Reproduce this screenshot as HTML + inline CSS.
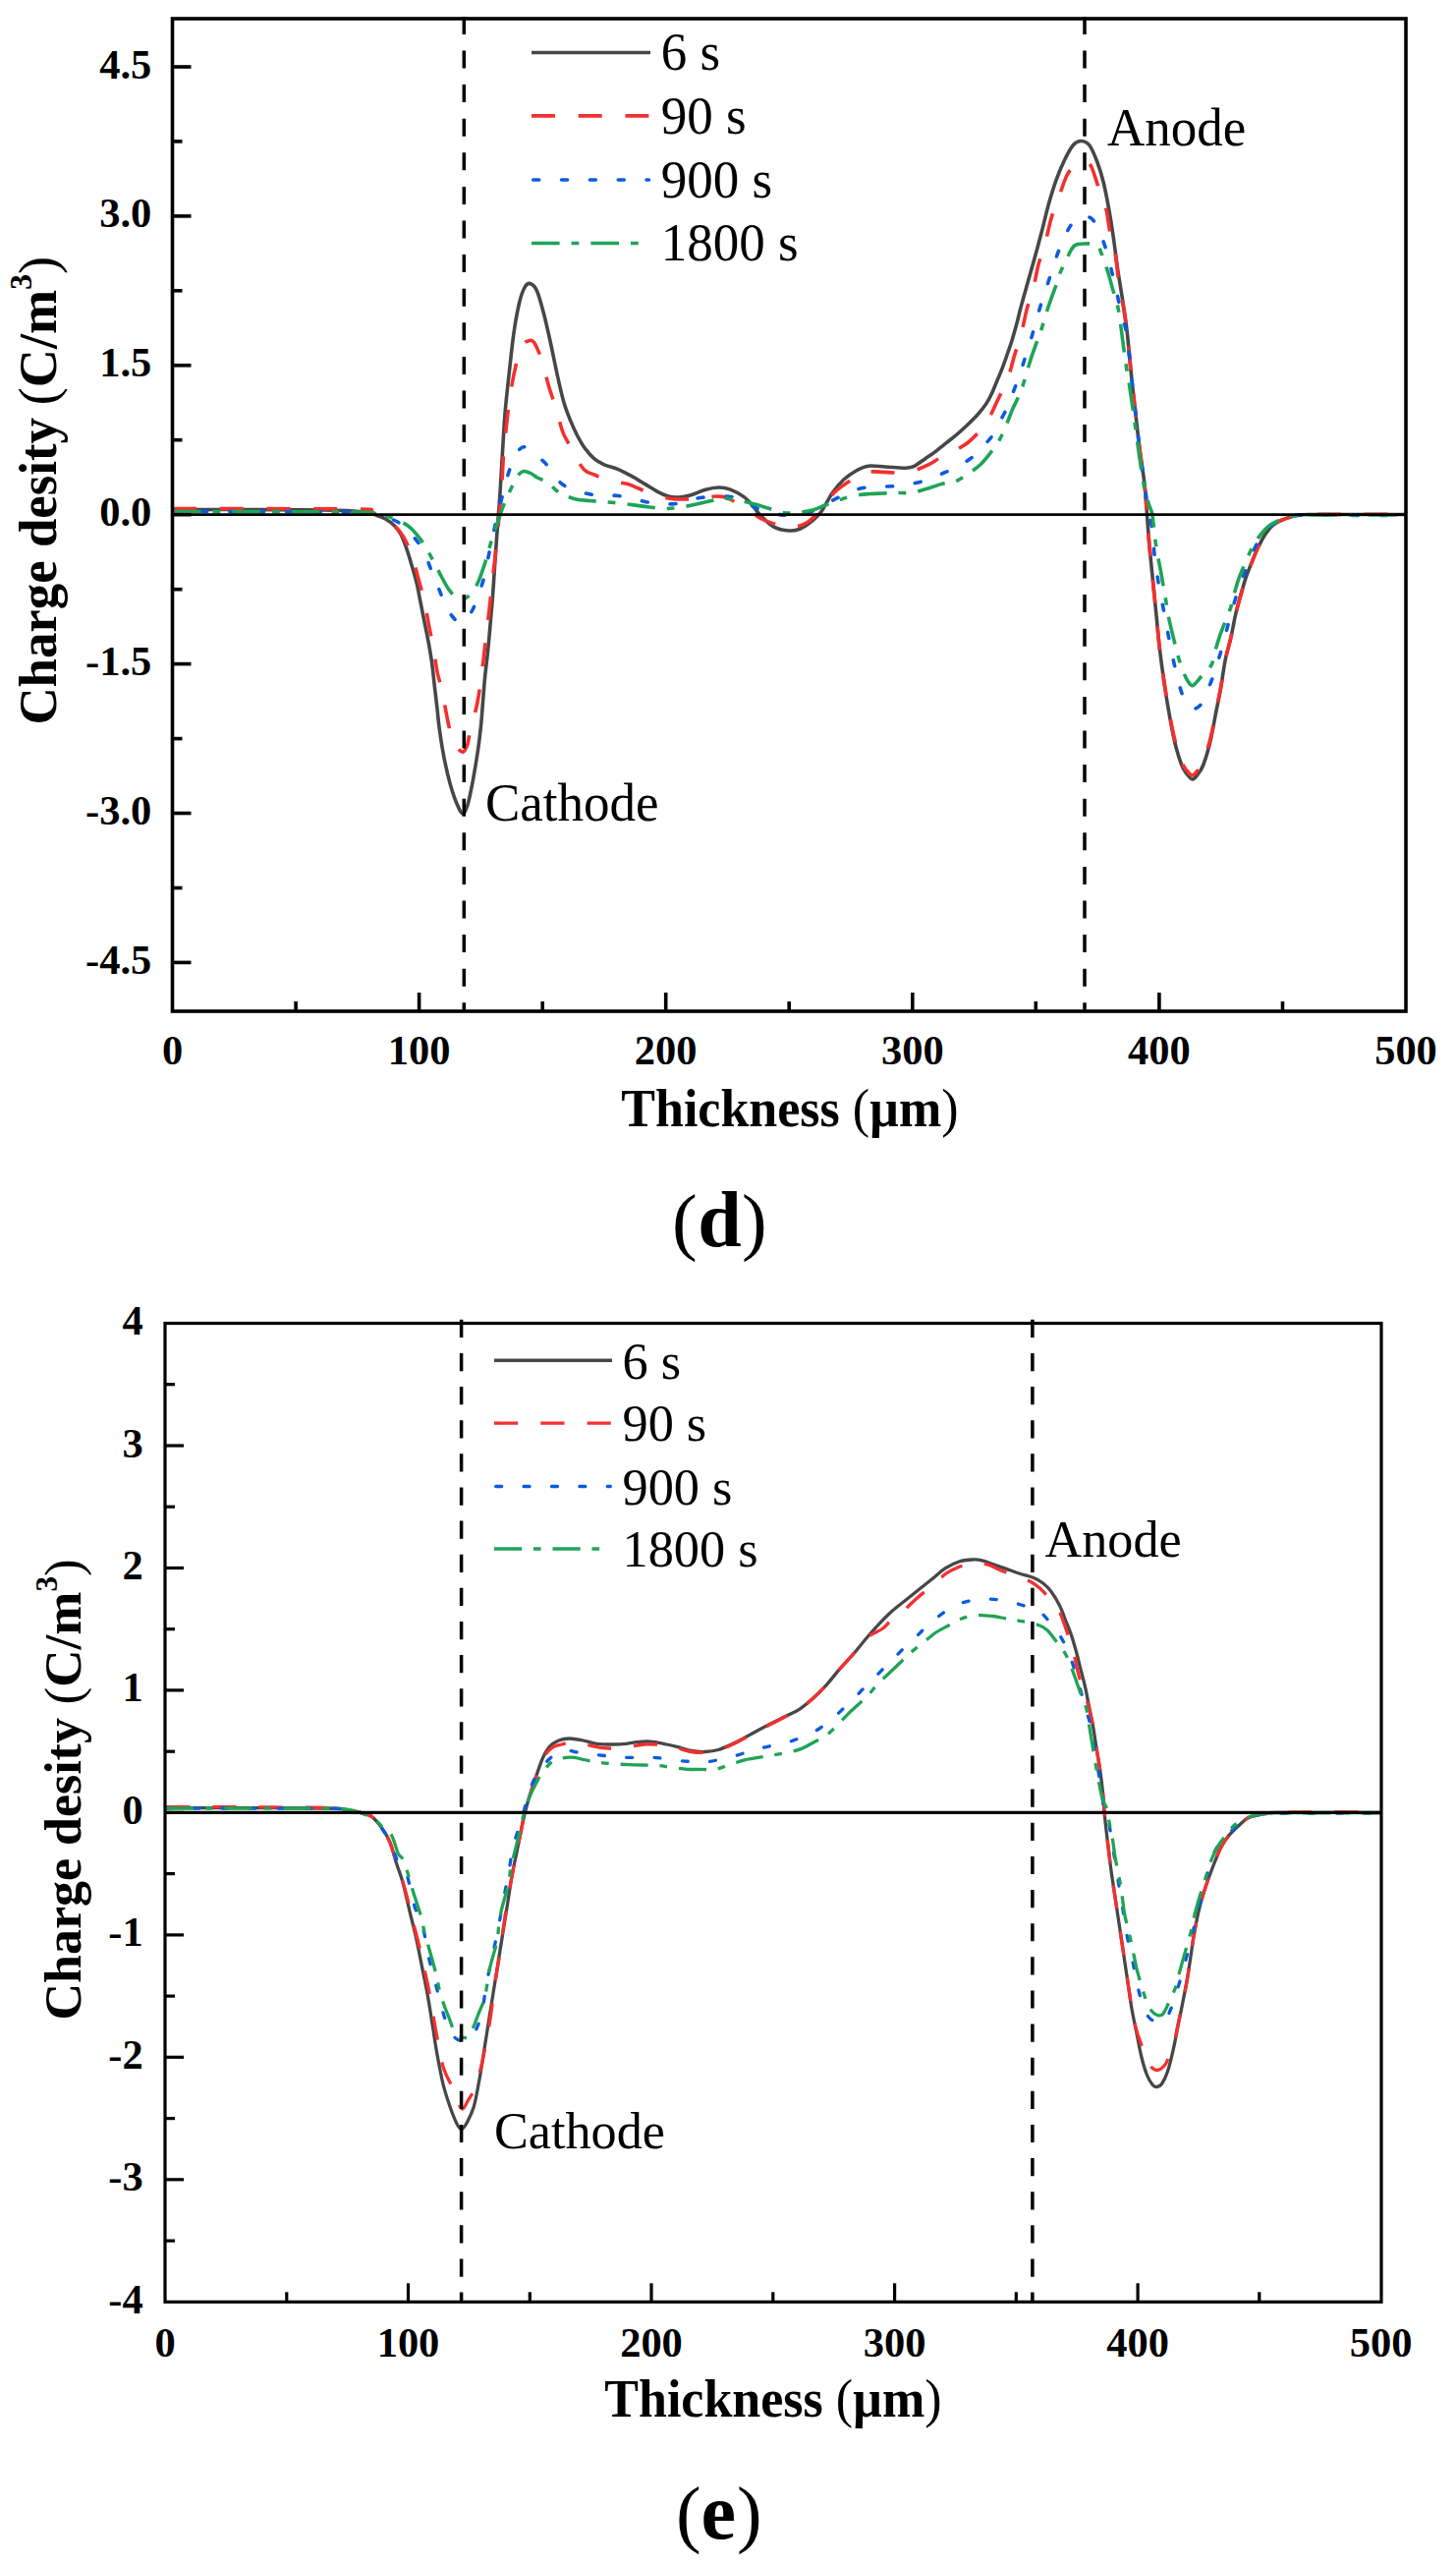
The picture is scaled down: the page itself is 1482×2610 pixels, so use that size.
<!DOCTYPE html>
<html><head><meta charset="utf-8"><title>Charge density profiles</title>
<style>
html,body{margin:0;padding:0;background:#fff;}
body{width:1482px;height:2610px;overflow:hidden;}
svg{display:block;font-family:"Liberation Serif",serif;}
</style></head>
<body>
<svg width="1482" height="2610" viewBox="0 0 1482 2610">
<rect width="1482" height="2610" fill="#fff"/>
<path d="M176.0,518.5 C188.3,518.5 224.3,518.4 250.0,518.5 C275.7,518.6 311.7,518.8 330.0,519.0 C348.3,519.2 352.3,519.5 360.0,520.0 C367.7,520.5 371.8,521.2 376.0,522.0 C380.2,522.8 382.4,524.0 385.0,525.0 C387.6,526.0 389.2,526.2 391.9,527.8 C394.6,529.4 398.3,531.8 401.0,534.5 C403.7,537.2 406.0,540.0 408.1,543.9 C410.2,547.8 411.8,552.5 413.7,557.9 C415.6,563.3 417.6,570.1 419.3,576.1 C421.1,582.1 422.8,587.9 424.2,593.7 C425.6,599.6 426.4,604.8 427.7,611.2 C429.0,617.6 430.5,625.3 431.9,632.3 C433.3,639.3 434.8,646.3 436.1,653.3 C437.4,660.3 438.5,666.6 439.6,674.4 C440.7,682.2 441.6,692.2 442.5,700.0 C443.4,707.8 444.2,713.9 445.0,721.0 C445.8,728.1 446.1,733.9 447.4,742.7 C448.6,751.5 450.6,764.2 452.5,773.6 C454.4,783.0 456.5,791.8 458.7,799.4 C460.9,807.0 463.4,814.2 465.5,819.0 C467.6,823.8 469.4,828.0 471.1,828.0 C472.9,828.0 474.3,824.6 476.0,819.0 C477.7,813.4 479.6,803.5 481.4,794.2 C483.1,784.9 485.1,772.7 486.5,763.3 C487.9,753.9 488.7,746.2 489.6,737.6 C490.5,729.0 491.0,720.4 491.7,711.8 C492.4,703.2 493.0,694.6 493.9,686.0 C494.8,677.4 495.9,669.6 496.8,660.3 C497.7,651.0 498.7,639.5 499.5,630.0 C500.3,620.5 500.9,614.9 501.7,603.6 C502.5,592.3 503.7,573.9 504.5,562.4 C505.3,550.9 505.8,544.0 506.5,534.9 C507.2,525.8 507.9,517.5 508.6,507.5 C509.3,497.5 509.7,489.4 510.6,475.0 C511.5,460.6 512.7,437.0 514.0,421.1 C515.3,405.2 516.7,393.6 518.2,379.9 C519.7,366.2 521.3,350.6 523.0,338.7 C524.7,326.8 526.7,316.2 528.5,308.5 C530.3,300.8 532.2,295.8 534.0,292.5 C535.8,289.2 537.5,288.0 539.5,288.5 C541.5,289.0 544.0,290.6 546.3,295.5 C548.6,300.4 550.9,309.4 553.2,318.0 C555.5,326.6 557.7,336.7 560.0,347.0 C562.3,357.3 564.6,369.6 566.9,379.9 C569.2,390.2 571.5,401.0 573.8,409.0 C576.1,417.0 578.3,422.2 580.6,427.9 C582.9,433.6 585.0,438.2 587.5,443.0 C590.0,447.8 592.7,452.7 595.7,456.7 C598.7,460.7 602.1,464.5 605.3,467.2 C608.5,469.9 611.1,471.1 615.0,472.8 C618.9,474.5 624.1,475.4 628.7,477.3 C633.3,479.2 637.8,481.7 642.4,484.2 C647.0,486.7 651.6,489.6 656.2,492.4 C660.8,495.1 666.0,498.6 669.9,500.7 C673.8,502.8 676.1,503.9 679.5,504.8 C682.9,505.7 686.4,506.2 690.5,506.0 C694.6,505.8 699.6,504.7 704.2,503.4 C708.8,502.1 713.4,499.4 718.0,498.2 C722.6,497.0 727.6,496.1 731.7,496.0 C735.8,495.9 738.5,496.3 742.7,497.9 C746.9,499.5 752.9,502.5 756.9,505.4 C760.9,508.2 763.6,511.8 766.5,515.0 C769.4,518.2 770.7,521.1 774.2,524.6 C777.7,528.1 782.9,533.6 787.7,536.2 C792.5,538.8 798.6,539.7 803.1,540.0 C807.6,540.3 810.8,539.6 814.6,538.0 C818.5,536.4 822.7,533.3 826.2,530.4 C829.7,527.5 832.3,525.6 835.8,520.8 C839.3,516.0 843.5,507.0 847.3,501.5 C851.1,496.0 854.6,491.8 858.8,488.0 C863.0,484.2 868.1,480.8 872.3,478.5 C876.5,476.2 879.0,474.8 883.8,474.2 C888.6,473.6 895.1,474.7 901.2,475.0 C907.3,475.3 915.6,476.3 920.4,476.2 C925.2,476.1 926.5,476.2 930.0,474.6 C933.5,473.1 938.0,469.3 941.5,466.9 C945.0,464.5 947.6,462.9 951.0,460.4 C954.4,457.8 958.3,454.5 962.0,451.6 C965.7,448.7 969.3,446.0 973.0,442.9 C976.7,439.8 980.3,436.5 984.0,433.0 C987.7,429.5 991.7,425.7 995.0,422.0 C998.3,418.3 1001.3,414.5 1003.7,411.0 C1006.1,407.5 1007.4,405.0 1009.2,401.1 C1011.0,397.2 1012.9,392.3 1014.7,387.9 C1016.5,383.5 1018.4,379.5 1020.2,374.7 C1022.0,369.9 1024.1,364.1 1025.7,359.3 C1027.3,354.6 1028.6,350.9 1030.1,346.2 C1031.6,341.4 1033.0,336.3 1034.5,330.8 C1036.0,325.3 1037.1,319.9 1038.9,313.2 C1040.7,306.4 1043.0,298.7 1045.3,290.3 C1047.6,281.9 1050.4,272.2 1053.0,262.9 C1055.6,253.6 1058.3,243.5 1060.7,234.3 C1063.1,225.1 1064.9,216.3 1067.3,207.9 C1069.7,199.5 1072.2,191.3 1074.9,183.7 C1077.6,176.1 1080.8,168.5 1083.7,162.5 C1086.6,156.5 1089.7,150.7 1092.5,147.5 C1095.3,144.3 1098.0,143.4 1100.8,143.5 C1103.5,143.6 1106.3,144.5 1109.0,148.0 C1111.7,151.5 1114.3,158.2 1116.7,164.5 C1119.1,170.8 1121.3,177.8 1123.3,186.0 C1125.3,194.2 1127.1,204.2 1128.8,213.4 C1130.5,222.6 1131.7,230.8 1133.2,240.9 C1134.7,251.0 1136.1,263.7 1137.6,273.8 C1139.1,283.9 1140.4,290.7 1142.0,301.3 C1143.6,311.9 1145.6,323.7 1147.2,337.5 C1148.8,351.3 1150.2,369.5 1151.8,384.3 C1153.3,399.1 1155.1,413.9 1156.5,426.4 C1157.9,438.9 1158.9,448.3 1160.3,459.2 C1161.7,470.1 1163.7,481.3 1164.9,492.0 C1166.1,502.7 1166.7,513.0 1167.5,523.5 C1168.3,534.0 1168.9,544.0 1169.9,555.1 C1170.9,566.2 1172.2,578.5 1173.4,590.2 C1174.6,601.9 1175.7,613.6 1176.9,625.3 C1178.1,637.0 1179.0,648.7 1180.4,660.4 C1181.8,672.1 1183.5,684.7 1185.1,695.4 C1186.7,706.1 1188.0,714.9 1189.8,724.7 C1191.5,734.6 1193.5,745.6 1195.6,754.5 C1197.7,763.4 1200.5,772.5 1202.6,778.0 C1204.7,783.5 1206.2,785.0 1208.0,787.5 C1209.8,790.0 1211.8,793.0 1213.7,793.0 C1215.6,793.0 1217.6,790.0 1219.5,787.5 C1221.4,785.0 1222.8,783.5 1224.9,778.0 C1227.0,772.5 1229.8,763.4 1231.9,754.5 C1234.0,745.6 1236.0,733.6 1237.7,724.7 C1239.5,715.8 1240.8,710.1 1242.4,701.3 C1244.0,692.5 1245.3,680.8 1247.1,672.0 C1248.8,663.2 1251.2,656.5 1252.9,648.7 C1254.7,640.9 1256.0,632.1 1257.6,625.3 C1259.2,618.5 1260.5,614.0 1262.3,607.7 C1264.0,601.5 1266.1,593.6 1268.1,587.8 C1270.0,581.9 1272.0,577.5 1274.0,572.6 C1276.0,567.7 1277.5,563.5 1279.8,558.6 C1282.1,553.7 1285.3,547.5 1288.0,543.4 C1290.7,539.3 1293.5,536.3 1296.2,534.0 C1298.9,531.7 1301.2,530.8 1304.0,529.5 C1306.8,528.2 1310.0,527.1 1313.0,526.2 C1316.0,525.3 1317.5,524.5 1322.0,524.0 C1326.5,523.5 1321.8,523.6 1340.0,523.5 C1358.2,523.4 1415.8,523.5 1431.0,523.5" fill="none" stroke="#474747" stroke-width="3.6" stroke-linejoin="round" stroke-linecap="butt"/>
<path d="M176.0,517.5 C206.7,517.6 326.8,517.6 360.0,518.0 C393.2,518.4 370.7,518.9 375.0,520.0 C379.3,521.1 382.8,523.1 386.0,524.5 C389.2,525.9 391.3,526.8 394.0,528.5 C396.7,530.2 399.2,532.0 402.0,535.0 C404.8,538.0 408.0,541.6 410.9,546.7 C413.8,551.8 416.7,558.3 419.3,565.6 C421.9,572.9 424.2,582.8 426.3,590.5 C428.4,598.2 430.3,604.4 432.0,612.0 C433.7,619.6 435.0,628.2 436.5,636.0 C438.0,643.8 439.5,650.8 441.0,659.0 C442.5,667.2 443.9,678.2 445.3,685.0 C446.7,691.8 448.1,694.5 449.3,700.0 C450.6,705.5 451.5,711.3 452.8,718.0 C454.1,724.7 455.8,734.2 457.2,740.0 C458.6,745.8 459.5,749.4 461.0,753.0 C462.5,756.6 464.2,759.5 466.0,761.5 C467.8,763.5 469.8,765.8 471.5,765.0 C473.2,764.2 474.9,760.4 476.0,757.0 C477.1,753.6 476.7,751.5 478.3,744.8 C479.9,738.1 483.6,725.9 485.5,717.0 C487.4,708.1 488.4,699.8 489.6,691.2 C490.8,682.6 491.8,673.2 492.7,665.5 C493.6,657.8 494.3,652.2 495.2,645.0 C496.1,637.8 496.9,629.6 497.8,622.0 C498.7,614.4 499.4,607.3 500.3,599.5 C501.2,591.7 502.1,583.0 503.0,575.0 C503.9,567.0 504.8,558.9 505.6,551.4 C506.4,543.9 507.0,536.9 507.6,530.0 C508.2,523.1 508.8,516.7 509.4,510.0 C510.0,503.3 510.4,498.3 511.0,490.0 C511.6,481.7 511.9,470.3 512.7,460.0 C513.6,449.7 515.0,437.9 516.1,428.0 C517.2,418.1 517.9,410.4 519.5,400.5 C521.1,390.6 523.8,376.9 525.7,368.9 C527.7,360.9 529.2,356.0 531.2,352.4 C533.2,348.8 535.3,347.6 537.4,347.0 C539.5,346.4 541.2,345.1 543.6,348.5 C546.0,351.9 549.3,360.0 551.8,367.5 C554.3,375.0 556.4,385.8 558.7,393.6 C561.0,401.4 563.2,406.7 565.5,414.2 C567.8,421.7 570.3,432.5 572.4,438.5 C574.5,444.5 576.2,446.4 578.0,450.0 C579.8,453.6 580.7,455.2 583.4,459.8 C586.1,464.4 590.6,473.8 594.4,477.7 C598.2,481.6 602.1,481.7 606.0,483.5 C609.9,485.3 614.0,487.5 617.7,488.7 C621.4,489.9 624.3,489.8 628.0,490.5 C631.7,491.2 636.0,491.7 639.7,492.8 C643.4,493.9 646.3,495.4 650.0,497.0 C653.7,498.6 657.5,500.9 661.7,502.4 C665.9,503.9 670.6,505.1 675.0,506.0 C679.4,506.9 683.8,507.6 687.8,507.9 C691.8,508.2 695.2,508.0 699.0,508.0 C702.8,508.0 707.0,508.1 710.8,507.7 C714.6,507.3 717.8,505.9 722.0,505.5 C726.2,505.1 732.0,504.8 735.8,505.4 C739.6,506.0 741.8,507.4 745.0,509.0 C748.2,510.6 751.5,512.8 755.0,515.0 C758.5,517.2 762.5,519.8 766.0,522.0 C769.5,524.2 772.5,526.7 776.2,528.5 C779.9,530.3 784.2,531.6 788.0,533.0 C791.8,534.4 795.5,536.6 799.2,537.1 C802.9,537.6 806.5,536.8 810.0,536.0 C813.5,535.2 816.4,534.8 820.4,532.3 C824.4,529.8 830.0,524.8 833.8,520.8 C837.6,516.8 839.8,511.9 843.0,508.0 C846.2,504.1 849.6,500.7 853.1,497.7 C856.6,494.7 860.5,492.4 864.0,490.0 C867.5,487.6 870.5,485.0 874.2,483.3 C877.9,481.6 881.8,480.5 886.0,480.0 C890.2,479.5 895.2,480.2 899.2,480.4 C903.2,480.6 906.1,480.9 910.0,481.0 C913.9,481.1 918.5,481.8 922.3,481.3 C926.1,480.8 929.1,479.4 933.0,478.0 C936.9,476.6 941.7,474.5 945.4,472.7 C949.1,470.9 951.6,468.7 955.0,467.0 C958.4,465.3 962.5,464.3 965.8,462.6 C969.1,460.9 971.7,459.1 975.0,457.0 C978.3,454.9 982.3,452.7 985.6,450.0 C988.9,447.3 992.2,444.0 995.0,441.0 C997.8,438.0 1000.3,435.2 1002.6,431.9 C1004.9,428.6 1007.0,424.9 1009.0,421.0 C1011.0,417.1 1012.9,412.6 1014.7,408.8 C1016.5,405.0 1018.2,401.7 1020.0,398.0 C1021.8,394.3 1023.7,390.6 1025.2,386.8 C1026.7,383.0 1027.8,379.0 1029.0,375.0 C1030.2,371.0 1031.1,366.6 1032.3,362.6 C1033.5,358.6 1034.8,354.8 1036.0,351.0 C1037.2,347.2 1038.0,346.0 1039.5,340.1 C1041.0,334.2 1043.3,322.1 1045.0,315.4 C1046.7,308.7 1048.8,303.6 1049.9,300.0 C1051.1,296.4 1050.8,298.3 1051.9,293.6 C1053.0,288.9 1054.9,277.9 1056.3,272.0 C1057.7,266.1 1059.1,262.5 1060.5,258.0 C1061.9,253.5 1063.0,250.7 1064.5,245.0 C1066.0,239.3 1067.9,229.8 1069.5,224.0 C1071.1,218.2 1072.5,214.2 1074.0,210.0 C1075.5,205.8 1076.2,204.2 1078.2,199.0 C1080.2,193.8 1083.3,183.6 1085.9,178.5 C1088.5,173.4 1091.5,170.8 1094.0,168.5 C1096.5,166.2 1099.0,165.1 1101.0,164.5 C1103.0,163.9 1104.3,164.1 1106.0,165.0 C1107.7,165.9 1109.1,166.2 1111.0,170.0 C1112.9,173.8 1114.9,181.2 1117.3,188.1 C1119.7,195.0 1123.4,203.1 1125.5,211.2 C1127.6,219.3 1128.2,228.4 1129.9,236.5 C1131.6,244.6 1134.0,251.7 1135.4,259.6 C1136.8,267.5 1137.2,276.0 1138.3,283.7 C1139.4,291.4 1140.8,296.7 1142.3,305.7 C1143.8,314.7 1145.6,324.4 1147.2,337.5 C1148.8,350.6 1150.2,369.5 1151.8,384.3 C1153.3,399.1 1155.1,413.9 1156.5,426.4 C1157.9,438.9 1158.9,448.3 1160.3,459.2 C1161.7,470.1 1163.7,481.3 1164.9,492.0 C1166.1,502.7 1166.6,513.0 1167.4,523.5 C1168.2,534.0 1168.9,544.0 1169.9,555.1 C1170.9,566.2 1172.2,578.5 1173.4,590.2 C1174.6,601.9 1175.7,613.6 1176.9,625.3 C1178.1,637.0 1179.0,648.8 1180.4,660.4 C1181.8,672.0 1183.5,684.6 1185.1,695.0 C1186.7,705.4 1188.0,713.5 1189.8,723.0 C1191.5,732.5 1193.5,743.3 1195.6,752.0 C1197.7,760.7 1200.5,769.7 1202.6,775.0 C1204.7,780.3 1206.2,781.7 1208.0,784.0 C1209.8,786.3 1211.7,789.0 1213.5,789.0 C1215.3,789.0 1217.2,786.3 1219.0,784.0 C1220.8,781.7 1222.3,780.3 1224.5,775.0 C1226.7,769.7 1229.7,760.6 1231.9,752.0 C1234.1,743.4 1236.0,732.1 1237.7,723.5 C1239.5,714.9 1240.8,709.1 1242.4,700.5 C1244.0,691.9 1245.3,680.6 1247.1,672.0 C1248.8,663.4 1251.2,656.5 1252.9,648.7 C1254.7,640.9 1256.0,632.1 1257.6,625.3 C1259.2,618.5 1260.5,614.0 1262.3,607.7 C1264.0,601.5 1266.1,593.6 1268.1,587.8 C1270.0,581.9 1272.0,577.5 1274.0,572.6 C1276.0,567.7 1277.5,563.5 1279.8,558.6 C1282.1,553.7 1285.3,547.5 1288.0,543.4 C1290.7,539.3 1293.5,536.3 1296.2,534.0 C1298.9,531.7 1301.2,530.8 1304.0,529.5 C1306.8,528.2 1310.0,527.2 1313.0,526.2 C1316.0,525.2 1317.5,524.3 1322.0,523.8 C1326.5,523.3 1321.8,523.5 1340.0,523.4 C1358.2,523.3 1415.8,523.3 1431.0,523.3" fill="none" stroke="#f52f2f" stroke-width="3.6" stroke-linejoin="round" stroke-linecap="butt" stroke-dasharray="24 23.7"/>
<path d="M176.0,520.5 C206.7,520.6 326.3,520.6 360.0,521.0 C393.7,521.4 373.0,522.2 378.0,523.0 C383.0,523.8 385.6,524.2 390.0,525.5 C394.4,526.8 400.0,528.4 404.2,530.8 C408.4,533.2 411.3,536.3 415.0,540.0 C418.7,543.7 423.2,548.6 426.2,552.8 C429.2,557.0 430.9,560.6 433.0,565.0 C435.1,569.4 436.7,574.4 438.5,578.9 C440.3,583.4 442.2,587.4 444.0,592.0 C445.8,596.6 447.7,601.9 449.5,606.4 C451.3,610.9 452.9,615.2 455.0,619.0 C457.1,622.8 459.7,626.6 461.9,629.0 C464.1,631.4 466.0,633.2 468.0,633.5 C470.0,633.8 472.2,632.6 474.0,631.0 C475.8,629.4 477.6,626.3 479.0,624.0 C480.4,621.7 481.2,620.7 482.5,617.4 C483.8,614.1 485.4,608.6 487.0,604.0 C488.6,599.4 490.2,597.1 492.1,589.9 C494.0,582.7 496.2,570.6 498.3,561.0 C500.4,551.4 502.3,541.6 504.5,532.2 C506.7,522.8 509.6,511.7 511.3,504.7 C513.0,497.7 513.8,494.5 515.0,490.0 C516.2,485.5 517.3,482.0 518.8,477.7 C520.3,473.4 522.0,467.7 524.0,464.0 C526.0,460.3 528.8,456.8 531.0,455.5 C533.2,454.2 534.7,454.8 537.0,456.0 C539.3,457.2 542.1,460.5 545.0,463.0 C547.9,465.5 551.6,467.6 554.6,470.8 C557.6,474.0 560.0,478.3 563.0,482.0 C566.0,485.7 568.6,490.0 572.4,492.8 C576.2,495.6 581.2,497.3 586.0,499.0 C590.8,500.7 596.5,502.3 601.3,503.1 C606.1,503.9 610.3,503.8 615.0,504.0 C619.7,504.2 624.7,503.9 629.4,504.5 C634.1,505.1 638.3,506.5 643.0,507.5 C647.7,508.5 652.8,509.9 657.6,510.7 C662.4,511.4 667.2,511.7 672.0,512.0 C676.8,512.3 681.7,513.2 686.4,512.7 C691.1,512.2 695.3,510.1 700.0,509.0 C704.7,507.9 709.8,506.9 714.6,506.3 C719.4,505.7 724.2,505.6 729.0,505.5 C733.8,505.4 738.8,504.6 743.5,505.4 C748.2,506.1 752.6,508.1 757.0,510.0 C761.4,511.9 765.3,515.0 770.0,517.0 C774.7,519.0 780.1,520.8 785.0,522.0 C789.9,523.2 794.7,524.0 799.2,524.2 C803.7,524.4 807.5,523.6 812.0,523.0 C816.5,522.4 821.5,522.1 826.2,520.4 C830.9,518.7 835.5,515.4 840.0,513.0 C844.5,510.6 848.8,508.5 853.1,506.3 C857.4,504.1 861.5,501.7 866.0,500.0 C870.5,498.3 875.3,497.1 880.0,496.3 C884.7,495.5 889.2,495.2 894.0,495.0 C898.8,494.8 904.1,495.1 908.8,494.8 C913.5,494.5 917.4,493.7 922.0,493.0 C926.6,492.3 932.4,491.6 936.7,490.4 C941.0,489.2 943.6,487.7 948.0,486.0 C952.4,484.3 958.6,482.2 963.1,480.2 C967.6,478.2 971.0,476.2 975.0,474.0 C979.0,471.8 983.5,469.8 987.3,467.0 C991.1,464.2 994.4,460.8 998.0,457.0 C1001.6,453.2 1006.2,448.7 1009.2,444.5 C1012.2,440.3 1013.6,436.4 1016.0,432.0 C1018.4,427.6 1021.3,422.6 1023.5,418.1 C1025.7,413.6 1027.2,409.4 1029.0,405.0 C1030.8,400.6 1032.3,396.3 1034.0,391.8 C1035.7,387.3 1037.5,382.6 1039.0,378.0 C1040.5,373.4 1041.8,369.0 1043.3,364.3 C1044.8,359.6 1046.5,354.8 1048.0,350.0 C1049.5,345.2 1050.8,340.4 1052.1,335.7 C1053.4,331.0 1054.7,326.6 1056.0,322.0 C1057.3,317.4 1058.7,312.4 1060.1,307.9 C1061.5,303.4 1063.0,299.5 1064.5,295.0 C1066.0,290.5 1067.4,285.7 1068.9,281.0 C1070.4,276.3 1072.0,271.6 1073.5,267.0 C1075.0,262.4 1076.5,258.0 1078.2,253.5 C1080.0,249.0 1082.0,244.1 1084.0,240.0 C1086.0,235.9 1088.1,231.8 1090.3,228.8 C1092.5,225.8 1094.8,223.5 1097.0,222.0 C1099.2,220.5 1101.1,219.9 1103.5,220.0 C1105.9,220.1 1108.8,220.3 1111.2,222.5 C1113.6,224.7 1115.8,228.5 1118.0,233.0 C1120.2,237.5 1122.7,244.7 1124.4,249.7 C1126.2,254.7 1127.2,258.2 1128.5,263.0 C1129.8,267.8 1130.9,273.4 1132.1,278.2 C1133.3,283.0 1134.4,287.2 1135.5,292.0 C1136.6,296.8 1137.4,301.3 1138.7,306.8 C1140.0,312.3 1141.9,318.6 1143.4,325.0 C1144.9,331.4 1146.1,335.0 1147.5,345.0 C1148.9,355.0 1150.3,371.4 1151.8,385.0 C1153.3,398.6 1155.1,414.0 1156.5,426.4 C1157.9,438.8 1158.9,448.3 1160.3,459.2 C1161.7,470.1 1163.5,482.2 1164.9,492.0 C1166.3,501.8 1167.3,510.8 1168.5,518.0 C1169.7,525.2 1171.1,527.5 1172.2,535.2 C1173.3,542.9 1173.9,554.6 1175.1,564.4 C1176.3,574.1 1177.6,584.2 1179.2,593.7 C1180.8,603.2 1182.7,611.9 1184.5,621.2 C1186.3,630.6 1188.0,640.4 1189.8,649.8 C1191.6,659.1 1193.4,667.9 1195.6,677.3 C1197.8,686.7 1200.5,698.8 1203.2,706.0 C1205.9,713.2 1209.0,718.5 1212.0,720.5 C1215.0,722.5 1218.8,720.4 1221.3,718.0 C1223.8,715.6 1225.0,710.5 1227.0,706.0 C1229.0,701.5 1231.0,698.3 1233.6,691.3 C1236.2,684.3 1239.7,673.1 1242.4,663.9 C1245.1,654.6 1247.5,645.0 1250.0,635.8 C1252.5,626.6 1254.8,617.9 1257.6,608.9 C1260.4,599.9 1263.6,590.9 1267.0,582.0 C1270.4,573.1 1274.4,562.9 1278.1,555.7 C1281.8,548.5 1285.0,543.2 1289.0,539.0 C1293.0,534.8 1298.0,532.6 1302.0,530.5 C1306.0,528.4 1309.7,527.2 1313.0,526.2 C1316.3,525.2 1317.5,524.6 1322.0,524.3 C1326.5,524.0 1321.8,524.3 1340.0,524.3 C1358.2,524.3 1415.8,524.4 1431.0,524.4" fill="none" stroke="#0b5be0" stroke-width="3.6" stroke-linejoin="round" stroke-linecap="round" stroke-dasharray="6 22.85"/>
<path d="M176.0,520.5 C206.7,520.6 326.3,520.6 360.0,521.0 C393.7,521.4 373.4,522.5 378.0,523.0 C382.6,523.5 384.2,523.4 387.7,524.0 C391.1,524.6 394.1,524.9 398.7,526.7 C403.3,528.5 410.8,532.0 415.2,535.0 C419.6,538.0 422.0,541.5 425.0,545.0 C428.0,548.5 430.3,551.8 433.0,556.2 C435.7,560.6 438.6,566.2 441.3,571.3 C444.1,576.4 447.2,582.7 449.5,587.0 C451.8,591.3 452.9,593.8 455.0,597.0 C457.1,600.2 459.7,603.9 461.9,606.0 C464.1,608.1 465.8,609.2 468.0,609.5 C470.2,609.8 472.8,609.4 475.0,608.0 C477.2,606.6 479.1,603.6 481.0,601.0 C482.9,598.4 484.5,597.2 486.6,592.6 C488.7,588.0 491.2,580.5 493.5,573.4 C495.8,566.3 497.8,558.0 500.3,550.0 C502.8,542.0 506.3,531.8 508.6,525.3 C510.9,518.8 511.8,515.9 514.0,510.7 C516.2,505.5 519.4,498.6 521.6,494.2 C523.8,489.8 525.1,486.4 527.0,484.0 C528.9,481.6 530.8,479.9 533.0,479.5 C535.2,479.1 537.5,480.3 540.0,481.5 C542.5,482.7 545.1,485.0 548.0,486.5 C550.9,488.0 554.1,488.5 557.3,490.7 C560.4,492.9 564.4,497.6 566.9,499.7 C569.4,501.8 569.2,501.7 572.4,503.1 C575.6,504.5 581.6,506.8 586.2,507.9 C590.8,509.0 595.3,509.0 600.0,509.5 C604.7,510.0 609.3,510.3 614.3,510.7 C619.3,511.1 624.7,511.4 630.1,512.0 C635.5,512.6 641.5,513.4 646.6,514.1 C651.8,514.8 656.2,515.4 661.0,516.0 C665.8,516.6 670.5,517.4 675.4,517.5 C680.3,517.6 685.0,517.2 690.6,516.5 C696.2,515.8 703.6,514.2 708.8,513.1 C714.0,512.0 717.5,511.0 722.0,510.0 C726.5,509.0 731.3,507.6 735.8,507.3 C740.3,507.0 743.8,507.3 749.2,508.3 C754.7,509.3 762.9,511.6 768.5,513.1 C774.1,514.6 778.2,516.1 783.0,517.5 C787.8,518.9 792.5,521.0 797.3,521.7 C802.1,522.4 806.6,522.2 811.7,521.7 C816.8,521.2 823.3,520.1 828.0,518.8 C832.7,517.5 835.8,515.6 840.0,514.0 C844.2,512.4 848.4,510.8 853.1,509.2 C857.9,507.6 863.0,505.5 868.5,504.4 C874.0,503.3 880.5,502.9 885.8,502.5 C891.0,502.1 895.5,502.2 900.0,502.0 C904.5,501.8 907.9,501.6 912.7,501.5 C917.5,501.4 923.5,502.0 929.0,501.2 C934.5,500.4 940.3,498.2 945.5,496.7 C950.7,495.2 955.6,493.1 960.0,492.0 C964.4,490.9 967.7,491.7 971.9,490.1 C976.1,488.5 980.6,485.3 985.0,482.4 C989.4,479.5 994.4,476.1 998.2,472.5 C1002.0,468.9 1004.9,465.0 1008.0,461.0 C1011.1,457.0 1014.2,453.1 1016.9,448.4 C1019.6,443.7 1021.8,438.1 1024.0,433.0 C1026.2,427.9 1028.1,422.3 1030.1,417.6 C1032.1,412.9 1034.2,409.2 1036.0,405.0 C1037.8,400.8 1039.4,397.2 1041.1,392.3 C1042.8,387.4 1044.3,381.2 1046.0,375.8 C1047.7,370.4 1049.3,364.9 1051.0,359.9 C1052.7,354.9 1054.5,350.3 1056.0,346.0 C1057.5,341.7 1058.8,338.8 1060.3,334.1 C1061.8,329.4 1063.6,322.9 1065.3,317.6 C1067.0,312.3 1068.9,307.0 1070.5,302.4 C1072.1,297.8 1073.5,294.2 1075.0,290.0 C1076.5,285.8 1077.5,281.6 1079.3,277.1 C1081.1,272.6 1083.5,267.4 1085.9,262.9 C1088.3,258.4 1090.4,252.5 1093.6,250.0 C1096.8,247.5 1101.2,248.1 1105.0,248.0 C1108.8,247.9 1113.7,246.8 1116.7,249.5 C1119.8,252.2 1121.3,258.9 1123.3,264.0 C1125.3,269.1 1127.3,275.4 1128.8,280.4 C1130.3,285.4 1131.2,289.6 1132.5,294.0 C1133.8,298.4 1135.3,302.1 1136.5,306.8 C1137.7,311.5 1138.0,312.2 1139.5,322.0 C1141.0,331.8 1143.5,353.3 1145.3,365.5 C1147.0,377.7 1148.5,384.9 1150.0,395.0 C1151.5,405.1 1153.0,415.7 1154.5,426.4 C1156.0,437.1 1157.4,448.3 1159.0,459.2 C1160.6,470.1 1162.3,483.2 1164.0,492.0 C1165.7,500.8 1167.5,506.8 1169.0,512.0 C1170.5,517.2 1171.7,517.7 1172.8,523.5 C1173.9,529.3 1174.6,540.1 1175.5,546.9 C1176.4,553.7 1177.3,558.9 1178.3,564.4 C1179.2,569.9 1179.9,572.2 1181.2,579.6 C1182.5,587.0 1185.0,601.4 1186.3,608.9 C1187.6,616.4 1187.8,619.4 1188.8,624.7 C1189.8,630.0 1190.6,633.4 1192.3,640.5 C1194.0,647.6 1197.2,660.5 1199.1,667.4 C1201.0,674.3 1202.1,677.7 1203.8,682.0 C1205.5,686.3 1207.2,690.4 1209.0,693.0 C1210.8,695.6 1212.0,698.3 1214.3,697.5 C1216.6,696.7 1219.9,691.5 1223.0,688.0 C1226.1,684.5 1230.7,681.1 1233.0,676.7 C1235.3,672.3 1235.5,666.9 1237.1,661.5 C1238.7,656.1 1239.9,651.6 1242.4,644.6 C1244.9,637.6 1250.0,626.2 1252.3,619.4 C1254.6,612.6 1254.8,609.0 1256.4,603.6 C1258.0,598.2 1259.1,593.6 1261.7,586.7 C1264.3,579.8 1269.0,568.7 1272.2,562.1 C1275.4,555.5 1277.8,551.4 1281.0,546.9 C1284.2,542.4 1288.0,538.1 1291.5,535.2 C1295.0,532.3 1298.4,531.1 1302.0,529.5 C1305.6,527.9 1309.7,526.4 1313.0,525.5 C1316.3,524.6 1317.5,524.5 1322.0,524.3 C1326.5,524.0 1321.8,524.0 1340.0,524.0 C1358.2,524.0 1415.8,524.0 1431.0,524.0" fill="none" stroke="#1ea456" stroke-width="3.6" stroke-linejoin="round" stroke-linecap="butt" stroke-dasharray="28.6 12 7.7 12.1"/>
<line x1="175.5" y1="523.7" x2="1431" y2="523.7" stroke="#000" stroke-width="2.8"/>
<line x1="472.3" y1="16.9" x2="472.3" y2="1029" stroke="#000" stroke-width="3.5" stroke-dasharray="18 16.6"/>
<line x1="1104" y1="16.9" x2="1104" y2="1029" stroke="#000" stroke-width="3.5" stroke-dasharray="18 16.6"/>
<rect x="175.5" y="19" width="1255.5" height="1010" fill="none" stroke="#000" stroke-width="3.6"/>
<line x1="426.6" y1="1029" x2="426.6" y2="1010" stroke="#000" stroke-width="3.6"/>
<line x1="677.7" y1="1029" x2="677.7" y2="1010" stroke="#000" stroke-width="3.6"/>
<line x1="928.8" y1="1029" x2="928.8" y2="1010" stroke="#000" stroke-width="3.6"/>
<line x1="1179.9" y1="1029" x2="1179.9" y2="1010" stroke="#000" stroke-width="3.6"/>
<line x1="301.1" y1="1029" x2="301.1" y2="1019" stroke="#000" stroke-width="3.6"/>
<line x1="552.2" y1="1029" x2="552.2" y2="1019" stroke="#000" stroke-width="3.6"/>
<line x1="803.2" y1="1029" x2="803.2" y2="1019" stroke="#000" stroke-width="3.6"/>
<line x1="1054.3" y1="1029" x2="1054.3" y2="1019" stroke="#000" stroke-width="3.6"/>
<line x1="1305.5" y1="1029" x2="1305.5" y2="1019" stroke="#000" stroke-width="3.6"/>
<line x1="175.5" y1="68.0" x2="194.5" y2="68.0" stroke="#000" stroke-width="3.6"/>
<line x1="175.5" y1="219.9" x2="194.5" y2="219.9" stroke="#000" stroke-width="3.6"/>
<line x1="175.5" y1="371.8" x2="194.5" y2="371.8" stroke="#000" stroke-width="3.6"/>
<line x1="175.5" y1="523.7" x2="194.5" y2="523.7" stroke="#000" stroke-width="3.6"/>
<line x1="175.5" y1="675.6" x2="194.5" y2="675.6" stroke="#000" stroke-width="3.6"/>
<line x1="175.5" y1="827.5" x2="194.5" y2="827.5" stroke="#000" stroke-width="3.6"/>
<line x1="175.5" y1="979.4" x2="194.5" y2="979.4" stroke="#000" stroke-width="3.6"/>
<line x1="175.5" y1="143.9" x2="185.5" y2="143.9" stroke="#000" stroke-width="3.6"/>
<line x1="175.5" y1="295.8" x2="185.5" y2="295.8" stroke="#000" stroke-width="3.6"/>
<line x1="175.5" y1="447.7" x2="185.5" y2="447.7" stroke="#000" stroke-width="3.6"/>
<line x1="175.5" y1="599.7" x2="185.5" y2="599.7" stroke="#000" stroke-width="3.6"/>
<line x1="175.5" y1="751.6" x2="185.5" y2="751.6" stroke="#000" stroke-width="3.6"/>
<line x1="175.5" y1="903.5" x2="185.5" y2="903.5" stroke="#000" stroke-width="3.6"/>
<text transform="translate(154.3,79.5) scale(1,0.99)" font-size="42.5" font-weight="bold" text-anchor="end">4.5</text>
<text transform="translate(154.3,231.4) scale(1,0.99)" font-size="42.5" font-weight="bold" text-anchor="end">3.0</text>
<text transform="translate(154.3,383.3) scale(1,0.99)" font-size="42.5" font-weight="bold" text-anchor="end">1.5</text>
<text transform="translate(154.3,535.2) scale(1,0.99)" font-size="42.5" font-weight="bold" text-anchor="end">0.0</text>
<text transform="translate(154.3,687.1) scale(1,0.99)" font-size="42.5" font-weight="bold" text-anchor="end">-1.5</text>
<text transform="translate(154.3,839.0) scale(1,0.99)" font-size="42.5" font-weight="bold" text-anchor="end">-3.0</text>
<text transform="translate(154.3,990.9) scale(1,0.99)" font-size="42.5" font-weight="bold" text-anchor="end">-4.5</text>
<text transform="translate(175.5,1082.5) scale(1,0.99)" font-size="42.5" font-weight="bold" text-anchor="middle">0</text>
<text transform="translate(426.6,1082.5) scale(1,0.99)" font-size="42.5" font-weight="bold" text-anchor="middle">100</text>
<text transform="translate(677.7,1082.5) scale(1,0.99)" font-size="42.5" font-weight="bold" text-anchor="middle">200</text>
<text transform="translate(928.8,1082.5) scale(1,0.99)" font-size="42.5" font-weight="bold" text-anchor="middle">300</text>
<text transform="translate(1179.9,1082.5) scale(1,0.99)" font-size="42.5" font-weight="bold" text-anchor="middle">400</text>
<text transform="translate(1431.0,1082.5) scale(1,0.99)" font-size="42.5" font-weight="bold" text-anchor="middle">500</text>
<text transform="translate(804.0,1145.5) scale(1,1.05)" font-size="52" font-weight="bold" text-anchor="middle">Thickness <tspan font-weight="normal">(</tspan>µm<tspan font-weight="normal">)</tspan></text>
<text transform="translate(57.4,737.6) rotate(-90) scale(0.977,1)" font-size="54.1" font-weight="bold" text-anchor="start">Charge desity</text>
<text transform="translate(57.4,261.0) rotate(-90)" font-size="54.1" font-weight="bold" text-anchor="end"><tspan font-weight="normal">(</tspan>C/m<tspan font-size="32.0" dy="-25.0">3</tspan><tspan dy="25.0" font-weight="normal">)</tspan></text>
<line x1="541" y1="53.5" x2="662" y2="53.5" stroke="#474747" stroke-width="3.6" stroke-linecap="butt"/>
<text transform="translate(672.8,71.3) scale(1,1.02)" font-size="53"  text-anchor="start">6 s</text>
<line x1="541" y1="117.9" x2="662" y2="117.9" stroke="#f52f2f" stroke-width="3.6" stroke-linecap="butt" stroke-dasharray="24 23.7"/>
<text transform="translate(672.8,135.7) scale(1,1.02)" font-size="53"  text-anchor="start">90 s</text>
<line x1="542.7" y1="183" x2="660.5" y2="183" stroke="#0b5be0" stroke-width="3.6" stroke-linecap="round" stroke-dasharray="6 22.85"/>
<text transform="translate(672.8,200.8) scale(1,1.02)" font-size="53"  text-anchor="start">900 s</text>
<line x1="541" y1="247.5" x2="650.5" y2="247.5" stroke="#1ea456" stroke-width="3.6" stroke-linecap="butt" stroke-dasharray="28.6 12 7.7 12.1"/>
<text transform="translate(672.8,265.3) scale(1,1.02)" font-size="53"  text-anchor="start">1800 s</text>
<text transform="translate(1127.0,147.5) scale(1,1.02)" font-size="53"  text-anchor="start">Anode</text>
<text transform="translate(494.0,834.5) scale(1,1.02)" font-size="53"  text-anchor="start">Cathode</text>
<text x="684.0" y="1267.5" font-size="77">(</text>
<text x="710.3" y="1267.8" font-size="80" font-weight="bold">d</text>
<text x="754.9" y="1267.5" font-size="77">)</text>
<path d="M169.0,1839.6 C182.5,1839.6 223.2,1839.5 250.0,1839.6 C276.8,1839.7 313.3,1839.8 330.0,1840.0 C346.7,1840.2 344.7,1840.4 350.0,1841.0 C355.3,1841.6 358.7,1842.8 362.0,1843.5 C365.3,1844.2 367.3,1844.7 370.0,1845.5 C372.7,1846.3 375.1,1846.0 378.2,1848.4 C381.3,1850.8 385.4,1855.5 388.5,1859.8 C391.6,1864.1 394.1,1867.9 396.7,1874.2 C399.3,1880.5 401.8,1890.7 404.0,1897.5 C406.2,1904.3 407.8,1907.3 409.9,1915.1 C412.0,1922.9 414.6,1934.7 416.9,1944.4 C419.2,1954.2 421.8,1963.9 423.9,1973.6 C426.0,1983.3 427.9,1993.0 429.8,2002.8 C431.8,2012.5 433.9,2022.3 435.6,2032.1 C437.4,2041.8 438.7,2051.6 440.3,2061.3 C441.9,2071.1 443.2,2080.8 445.0,2090.6 C446.8,2100.4 448.7,2111.1 450.8,2119.9 C452.9,2128.7 455.6,2136.6 457.9,2143.3 C460.2,2150.0 462.6,2156.1 464.5,2160.0 C466.4,2163.9 467.8,2166.5 469.6,2166.5 C471.4,2166.5 473.1,2163.9 475.2,2160.0 C477.3,2156.1 480.2,2151.0 482.4,2143.3 C484.6,2135.6 486.5,2123.8 488.3,2114.0 C490.1,2104.2 491.4,2094.6 493.0,2084.8 C494.6,2075.1 496.1,2065.2 497.6,2055.5 C499.2,2045.8 500.7,2036.0 502.3,2026.3 C503.9,2016.5 505.4,2006.8 507.0,1997.0 C508.6,1987.2 510.1,1977.5 511.7,1967.8 C513.3,1958.0 514.9,1948.2 516.4,1938.5 C517.9,1928.8 519.5,1918.1 521.0,1909.3 C522.5,1900.5 524.2,1893.5 525.7,1885.9 C527.2,1878.3 528.8,1870.5 530.2,1863.6 C531.6,1856.7 532.9,1850.4 534.3,1844.7 C535.7,1839.0 536.7,1835.3 538.5,1829.3 C540.3,1823.3 543.0,1815.3 545.3,1808.7 C547.6,1802.1 549.9,1794.7 552.2,1789.5 C554.5,1784.3 556.4,1780.6 559.1,1777.5 C561.9,1774.4 565.3,1772.4 568.7,1771.0 C572.1,1769.6 575.6,1769.0 579.7,1769.0 C583.8,1769.0 588.8,1770.1 593.4,1771.0 C598.0,1771.9 602.1,1773.6 607.1,1774.3 C612.1,1775.0 618.6,1775.0 623.6,1775.0 C628.6,1775.0 632.8,1774.8 637.4,1774.3 C642.0,1773.8 646.5,1772.6 651.1,1772.3 C655.7,1772.0 660.2,1771.8 664.8,1772.3 C669.4,1772.8 674.4,1774.1 678.6,1775.0 C682.8,1775.9 685.8,1776.6 690.0,1777.7 C694.2,1778.8 699.1,1780.7 703.7,1781.5 C708.3,1782.3 712.9,1782.7 717.5,1782.5 C722.1,1782.3 726.2,1782.0 731.2,1780.5 C736.2,1779.0 742.0,1776.3 747.7,1773.6 C753.4,1770.8 759.5,1767.2 765.5,1764.0 C771.5,1760.8 777.7,1757.4 783.4,1754.4 C789.1,1751.4 794.9,1748.7 799.9,1746.2 C804.9,1743.7 809.0,1742.3 813.6,1739.3 C818.2,1736.3 822.8,1732.4 827.4,1728.3 C832.0,1724.2 836.5,1719.6 841.1,1714.6 C845.7,1709.6 850.2,1703.4 854.8,1698.1 C859.4,1692.8 864.0,1688.3 868.6,1683.0 C873.2,1677.7 877.6,1671.9 882.3,1666.5 C886.9,1661.1 892.3,1655.2 896.5,1650.7 C900.7,1646.2 903.4,1643.4 907.5,1639.7 C911.6,1636.0 916.6,1632.4 921.2,1628.7 C925.8,1625.0 930.3,1621.4 934.9,1617.7 C939.5,1614.0 944.1,1610.4 948.7,1606.7 C953.3,1603.0 957.8,1598.7 962.4,1595.7 C967.0,1592.8 971.6,1590.5 976.2,1589.0 C980.8,1587.5 986.0,1587.2 989.9,1587.0 C993.8,1586.8 996.1,1587.0 999.5,1587.8 C1002.9,1588.6 1006.4,1590.2 1010.5,1591.6 C1014.6,1593.0 1019.6,1594.8 1024.2,1596.4 C1028.8,1598.0 1033.4,1599.7 1038.0,1601.2 C1042.6,1602.7 1047.8,1603.7 1051.7,1605.3 C1055.6,1606.9 1058.3,1608.5 1061.3,1610.8 C1064.3,1613.1 1066.7,1615.2 1069.6,1619.1 C1072.5,1623.0 1076.2,1629.2 1078.7,1634.0 C1081.2,1638.8 1082.4,1643.4 1084.3,1648.1 C1086.2,1652.8 1088.0,1656.6 1089.9,1662.1 C1091.8,1667.5 1093.8,1674.6 1095.5,1680.8 C1097.2,1687.0 1098.6,1693.3 1100.2,1699.5 C1101.8,1705.7 1103.5,1712.0 1104.9,1718.2 C1106.3,1724.4 1107.3,1730.7 1108.6,1736.9 C1109.8,1743.1 1111.2,1748.6 1112.4,1755.6 C1113.7,1762.6 1114.8,1771.2 1116.1,1779.0 C1117.3,1786.8 1118.8,1794.6 1119.9,1802.4 C1121.0,1810.2 1122.0,1818.8 1122.7,1825.8 C1123.4,1832.8 1123.3,1836.3 1124.1,1844.5 C1124.9,1852.7 1126.3,1865.1 1127.5,1875.1 C1128.7,1885.1 1129.9,1895.5 1131.1,1904.3 C1132.3,1913.1 1133.4,1919.9 1134.6,1927.7 C1135.8,1935.5 1136.9,1943.3 1138.1,1951.1 C1139.3,1958.9 1140.4,1966.7 1141.6,1974.5 C1142.8,1982.3 1143.9,1990.1 1145.1,1997.9 C1146.3,2005.7 1147.4,2013.5 1148.6,2021.3 C1149.8,2029.1 1150.7,2036.9 1152.1,2044.7 C1153.5,2052.5 1155.2,2060.3 1156.8,2068.1 C1158.4,2075.9 1159.8,2084.3 1161.5,2091.5 C1163.2,2098.7 1165.3,2106.0 1167.3,2111.0 C1169.2,2116.0 1171.5,2119.4 1173.2,2121.5 C1174.9,2123.6 1176.0,2123.7 1177.5,2123.5 C1179.0,2123.3 1180.7,2123.1 1182.5,2120.5 C1184.3,2117.9 1186.5,2113.8 1188.4,2108.0 C1190.4,2102.2 1192.5,2093.2 1194.2,2085.6 C1196.0,2078.0 1197.3,2070.0 1198.9,2062.2 C1200.5,2054.4 1202.0,2046.6 1203.6,2038.8 C1205.1,2031.0 1206.8,2023.2 1208.2,2015.4 C1209.6,2007.6 1210.6,1999.8 1211.8,1992.0 C1213.0,1984.2 1213.9,1976.5 1215.3,1968.7 C1216.7,1960.9 1218.4,1952.1 1219.9,1945.3 C1221.5,1938.5 1222.8,1933.5 1224.6,1927.7 C1226.4,1921.9 1228.5,1915.7 1230.5,1910.2 C1232.5,1904.8 1234.2,1900.3 1236.3,1895.0 C1238.4,1889.7 1240.9,1883.1 1243.3,1878.6 C1245.7,1874.1 1247.9,1871.2 1250.4,1868.1 C1252.9,1865.0 1255.5,1862.8 1258.5,1859.9 C1261.5,1857.0 1265.5,1852.9 1268.7,1850.8 C1271.9,1848.7 1274.2,1848.4 1277.5,1847.5 C1280.8,1846.6 1284.8,1846.1 1288.5,1845.6 C1292.2,1845.1 1280.6,1844.7 1300.0,1844.5 C1319.4,1844.3 1387.5,1844.5 1405.0,1844.5" fill="none" stroke="#474747" stroke-width="3.3" stroke-linejoin="round" stroke-linecap="butt"/>
<path d="M169.0,1838.6 C182.5,1838.6 223.2,1838.6 250.0,1838.8 C276.8,1839.0 313.3,1839.2 330.0,1839.5 C346.7,1839.8 344.7,1839.9 350.0,1840.5 C355.3,1841.1 358.7,1842.2 362.0,1843.0 C365.3,1843.8 367.3,1844.6 370.0,1845.5 C372.7,1846.4 375.1,1846.0 378.2,1848.4 C381.3,1850.8 385.4,1855.5 388.5,1859.8 C391.6,1864.1 394.5,1869.3 396.7,1874.2 C398.9,1879.1 400.0,1884.3 401.7,1889.4 C403.4,1894.5 405.1,1898.8 407.0,1905.0 C408.9,1911.2 411.4,1919.3 413.4,1926.8 C415.4,1934.3 417.1,1942.2 419.0,1950.0 C420.9,1957.8 423.2,1965.8 425.1,1973.6 C427.0,1981.4 428.8,1989.2 430.5,1997.0 C432.2,2004.8 434.1,2012.6 435.6,2020.4 C437.2,2028.2 438.4,2036.2 439.8,2044.0 C441.2,2051.8 442.5,2060.2 443.8,2067.2 C445.1,2074.2 446.3,2080.2 447.5,2086.0 C448.7,2091.8 449.5,2097.6 450.8,2102.3 C452.1,2107.0 453.9,2110.5 455.5,2114.0 C457.1,2117.5 458.6,2119.6 460.2,2123.4 C461.8,2127.2 463.2,2133.2 465.0,2137.0 C466.8,2140.8 468.9,2145.8 470.7,2146.0 C472.5,2146.2 473.9,2141.6 476.0,2138.0 C478.1,2134.4 481.5,2129.5 483.6,2124.5 C485.7,2119.5 486.9,2114.1 488.5,2108.0 C490.1,2101.9 491.3,2096.8 493.0,2088.0 C494.7,2079.2 497.1,2066.8 498.8,2055.5 C500.6,2044.2 501.9,2031.1 503.5,2020.4 C505.1,2009.7 506.4,2002.9 508.2,1991.2 C509.9,1979.5 512.0,1962.9 514.0,1950.2 C516.0,1937.5 517.9,1925.8 519.9,1915.1 C521.9,1904.4 524.0,1894.5 525.7,1885.9 C527.4,1877.3 528.8,1870.5 530.2,1863.6 C531.6,1856.7 532.9,1850.4 534.3,1844.7 C535.7,1839.0 536.7,1835.3 538.5,1829.3 C540.3,1823.3 543.0,1815.3 545.3,1808.7 C547.6,1802.1 549.5,1794.8 552.2,1789.8 C555.0,1784.8 558.5,1781.0 561.8,1778.5 C565.1,1776.0 568.3,1776.0 572.0,1775.0 C575.7,1774.0 579.8,1772.3 583.8,1772.3 C587.8,1772.3 591.9,1774.1 596.0,1775.0 C600.1,1775.9 604.5,1777.1 608.5,1777.8 C612.5,1778.5 616.1,1778.8 620.0,1779.0 C623.9,1779.2 627.9,1779.4 631.9,1779.1 C635.9,1778.8 640.1,1777.7 644.0,1777.0 C647.9,1776.3 651.4,1775.3 655.2,1775.0 C659.0,1774.7 663.1,1774.8 667.0,1775.0 C670.9,1775.2 674.8,1775.7 678.6,1776.4 C682.4,1777.1 685.8,1778.0 690.0,1779.0 C694.2,1780.0 699.1,1781.8 703.7,1782.5 C708.3,1783.2 712.9,1783.5 717.5,1783.2 C722.1,1783.0 726.2,1782.5 731.2,1781.0 C736.2,1779.5 742.0,1776.8 747.7,1774.0 C753.4,1771.2 759.5,1767.7 765.5,1764.5 C771.5,1761.3 777.7,1758.0 783.4,1755.0 C789.1,1752.0 794.9,1749.1 799.9,1746.5 C804.9,1743.9 809.0,1742.3 813.6,1739.3 C818.2,1736.3 822.8,1732.4 827.4,1728.3 C832.0,1724.2 836.5,1719.6 841.1,1714.6 C845.7,1709.6 850.2,1703.4 854.8,1698.1 C859.4,1692.8 864.0,1688.3 868.6,1683.0 C873.2,1677.7 877.4,1670.8 882.3,1666.5 C887.2,1662.2 893.9,1660.2 897.9,1657.5 C901.9,1654.8 903.0,1652.3 906.0,1650.0 C909.0,1647.7 912.5,1646.5 915.7,1643.8 C918.9,1641.1 922.0,1637.0 925.0,1634.0 C928.0,1631.0 930.8,1628.4 933.6,1625.9 C936.4,1623.4 939.0,1621.4 942.0,1619.0 C945.0,1616.6 947.9,1614.5 951.4,1611.5 C954.9,1608.5 959.1,1603.8 963.0,1601.0 C966.9,1598.2 971.0,1596.6 974.8,1595.0 C978.6,1593.4 982.3,1592.3 986.0,1591.5 C989.7,1590.7 993.1,1590.0 996.8,1590.2 C1000.5,1590.5 1004.1,1591.6 1008.0,1593.0 C1011.9,1594.4 1016.3,1596.9 1020.1,1598.5 C1023.9,1600.1 1027.3,1601.1 1031.0,1602.5 C1034.7,1603.9 1038.9,1605.5 1042.1,1606.7 C1045.3,1608.0 1047.2,1608.4 1050.0,1610.0 C1052.8,1611.6 1055.8,1613.8 1058.6,1616.3 C1061.4,1618.8 1064.0,1621.8 1067.0,1625.0 C1070.0,1628.2 1073.4,1629.9 1076.4,1635.5 C1079.5,1641.1 1082.6,1650.7 1085.3,1658.4 C1088.0,1666.1 1090.5,1673.8 1092.7,1681.7 C1094.9,1689.7 1096.2,1698.3 1098.4,1706.1 C1100.6,1713.9 1104.1,1722.8 1105.8,1728.5 C1107.5,1734.2 1107.7,1735.5 1108.8,1740.0 C1109.9,1744.5 1111.2,1749.1 1112.4,1755.6 C1113.6,1762.1 1114.8,1771.2 1116.1,1779.0 C1117.3,1786.8 1118.8,1794.6 1119.9,1802.4 C1121.0,1810.2 1122.0,1818.8 1122.7,1825.8 C1123.4,1832.8 1123.4,1836.3 1124.2,1844.5 C1125.0,1852.7 1126.3,1865.1 1127.5,1875.1 C1128.7,1885.1 1129.9,1895.5 1131.1,1904.3 C1132.3,1913.1 1133.4,1919.9 1134.6,1927.7 C1135.8,1935.5 1136.9,1943.3 1138.1,1951.1 C1139.3,1958.9 1140.4,1966.7 1141.6,1974.5 C1142.8,1982.3 1143.9,1990.1 1145.1,1997.9 C1146.3,2005.7 1147.4,2013.5 1148.6,2021.3 C1149.8,2029.1 1150.7,2037.2 1152.1,2044.7 C1153.5,2052.2 1155.2,2060.2 1156.8,2066.0 C1158.4,2071.8 1160.0,2075.6 1161.5,2079.8 C1163.0,2084.0 1164.5,2087.3 1166.0,2091.0 C1167.5,2094.7 1168.8,2099.4 1170.8,2102.0 C1172.8,2104.6 1175.5,2106.7 1178.0,2106.5 C1180.5,2106.3 1183.8,2103.7 1186.0,2100.8 C1188.2,2097.9 1189.4,2092.9 1191.0,2089.0 C1192.6,2085.1 1194.1,2082.2 1195.4,2077.4 C1196.7,2072.6 1197.6,2066.4 1199.0,2060.0 C1200.4,2053.6 1202.1,2046.2 1203.6,2038.8 C1205.1,2031.4 1206.8,2023.2 1208.2,2015.4 C1209.6,2007.6 1210.6,1999.8 1211.8,1992.0 C1213.0,1984.2 1213.9,1976.5 1215.3,1968.7 C1216.7,1960.9 1218.4,1952.1 1219.9,1945.3 C1221.5,1938.5 1222.8,1933.5 1224.6,1927.7 C1226.4,1921.9 1228.5,1915.7 1230.5,1910.2 C1232.5,1904.8 1234.2,1900.3 1236.3,1895.0 C1238.4,1889.7 1240.9,1883.1 1243.3,1878.6 C1245.7,1874.1 1247.9,1871.2 1250.4,1868.1 C1252.9,1865.0 1255.5,1862.8 1258.5,1859.9 C1261.5,1857.0 1265.5,1852.9 1268.7,1850.8 C1271.9,1848.7 1274.2,1848.4 1277.5,1847.5 C1280.8,1846.6 1284.8,1846.1 1288.5,1845.6 C1292.2,1845.0 1280.6,1844.5 1300.0,1844.2 C1319.4,1843.9 1387.5,1844.0 1405.0,1844.0" fill="none" stroke="#f52f2f" stroke-width="3.3" stroke-linejoin="round" stroke-linecap="butt" stroke-dasharray="24.2 23.1"/>
<path d="M169.0,1840.0 C195.8,1840.0 299.8,1840.0 330.0,1840.2 C360.2,1840.4 344.7,1840.5 350.0,1841.0 C355.3,1841.5 358.3,1842.1 362.0,1843.0 C365.7,1843.9 368.7,1844.8 372.0,1846.5 C375.3,1848.2 378.8,1850.1 382.0,1853.0 C385.2,1855.9 388.3,1860.0 391.0,1864.0 C393.7,1868.0 395.8,1872.3 398.0,1877.0 C400.2,1881.7 402.2,1887.8 404.0,1892.0 C405.8,1896.2 407.2,1899.1 409.0,1902.0 C410.8,1904.9 412.5,1903.2 414.6,1909.3 C416.7,1915.4 418.9,1929.3 421.6,1938.5 C424.3,1947.7 428.5,1955.0 431.0,1964.2 C433.5,1973.4 434.7,1984.1 436.8,1993.5 C438.9,2002.9 441.5,2011.4 443.8,2020.4 C446.1,2029.4 448.8,2040.4 450.8,2047.3 C452.8,2054.2 454.2,2058.0 456.0,2062.0 C457.8,2066.0 459.7,2069.2 461.4,2071.5 C463.1,2073.8 464.4,2074.7 466.0,2075.5 C467.6,2076.3 469.0,2076.5 470.7,2076.5 C472.4,2076.5 474.2,2076.3 476.0,2075.5 C477.8,2074.7 479.6,2073.8 481.3,2071.5 C483.0,2069.2 484.4,2066.0 486.0,2062.0 C487.6,2058.0 489.1,2054.6 490.6,2047.3 C492.2,2040.0 493.6,2027.4 495.3,2018.0 C497.0,2008.6 499.1,2000.2 501.0,1991.0 C502.9,1981.8 505.2,1972.4 507.0,1963.1 C508.8,1953.8 510.2,1944.4 512.0,1935.0 C513.8,1925.6 515.8,1916.1 517.5,1906.9 C519.2,1897.8 520.5,1887.1 522.0,1880.1 C523.5,1873.1 525.0,1869.8 526.5,1865.0 C528.0,1860.2 528.9,1858.2 530.9,1851.3 C532.9,1844.4 536.3,1830.7 538.5,1823.8 C540.7,1816.9 542.1,1814.1 544.0,1810.0 C545.9,1805.9 547.8,1802.3 550.1,1799.1 C552.4,1795.9 555.4,1793.5 558.0,1791.0 C560.6,1788.5 563.0,1785.7 566.0,1784.0 C569.0,1782.3 572.2,1781.1 576.2,1781.0 C580.2,1780.9 585.2,1782.8 590.0,1783.5 C594.8,1784.2 600.1,1784.7 605.1,1785.3 C610.1,1785.9 615.3,1786.5 620.0,1787.0 C624.7,1787.5 628.5,1787.8 633.2,1788.1 C637.9,1788.3 643.2,1788.5 648.0,1788.5 C652.8,1788.5 657.4,1787.9 662.1,1788.1 C666.8,1788.3 671.1,1788.9 676.0,1789.5 C680.9,1790.1 686.6,1791.0 691.4,1791.5 C696.2,1792.0 700.5,1792.3 705.0,1792.5 C709.5,1792.7 713.7,1793.2 718.2,1792.9 C722.7,1792.6 727.4,1791.4 732.0,1790.5 C736.6,1789.6 740.9,1788.7 745.6,1787.4 C750.3,1786.2 755.4,1784.4 760.0,1783.0 C764.6,1781.6 768.6,1780.3 773.1,1779.1 C777.6,1777.9 782.3,1777.0 787.0,1776.0 C791.7,1775.0 796.8,1774.2 801.3,1772.9 C805.8,1771.7 809.8,1770.1 814.0,1768.5 C818.2,1766.9 822.7,1765.4 826.7,1763.3 C830.7,1761.2 834.3,1758.6 838.0,1756.0 C841.7,1753.4 845.2,1750.5 848.7,1747.5 C852.2,1744.5 855.5,1741.3 859.0,1738.0 C862.5,1734.7 866.4,1731.1 869.9,1727.6 C873.4,1724.1 876.7,1720.3 880.0,1717.0 C883.3,1713.7 886.3,1711.0 889.6,1707.7 C892.9,1704.4 896.7,1700.3 900.0,1697.0 C903.3,1693.7 906.2,1691.0 909.5,1687.7 C912.8,1684.4 916.5,1680.4 920.0,1677.0 C923.5,1673.6 927.3,1670.4 930.8,1667.1 C934.3,1663.8 937.5,1660.3 941.0,1657.0 C944.5,1653.7 948.1,1650.4 952.1,1647.2 C956.1,1644.0 960.6,1640.6 965.0,1638.0 C969.4,1635.4 973.7,1633.1 978.2,1631.4 C982.7,1629.7 987.3,1628.7 992.0,1628.0 C996.7,1627.3 1001.6,1626.9 1006.4,1627.0 C1011.2,1627.1 1016.2,1627.7 1021.0,1628.5 C1025.8,1629.3 1030.7,1630.5 1035.2,1631.7 C1039.7,1633.0 1044.0,1634.5 1048.0,1636.0 C1052.0,1637.5 1056.0,1638.7 1059.3,1641.0 C1062.6,1643.3 1064.8,1646.2 1068.0,1650.0 C1071.2,1653.8 1075.9,1659.7 1078.7,1664.0 C1081.5,1668.3 1083.0,1671.6 1085.0,1676.0 C1087.0,1680.4 1088.6,1683.4 1090.9,1690.2 C1093.2,1697.0 1096.3,1708.0 1099.0,1717.0 C1101.7,1726.0 1105.0,1738.0 1106.8,1744.4 C1108.6,1750.8 1108.8,1749.8 1110.0,1755.6 C1111.2,1761.4 1112.7,1771.2 1114.0,1779.0 C1115.3,1786.8 1116.8,1794.6 1118.0,1802.4 C1119.2,1810.2 1120.4,1818.8 1121.5,1825.8 C1122.6,1832.8 1123.3,1839.6 1124.5,1844.5 C1125.7,1849.4 1127.2,1848.5 1128.7,1855.2 C1130.2,1861.9 1131.9,1874.8 1133.4,1884.4 C1135.0,1894.0 1136.5,1903.4 1138.0,1913.0 C1139.5,1922.6 1141.1,1932.1 1142.7,1941.8 C1144.3,1951.5 1145.6,1961.7 1147.4,1971.0 C1149.2,1980.3 1151.3,1988.7 1153.3,1997.9 C1155.2,2007.1 1157.3,2018.7 1159.1,2026.0 C1160.9,2033.3 1162.4,2037.7 1164.0,2042.0 C1165.6,2046.3 1166.5,2049.2 1168.5,2051.7 C1170.5,2054.2 1173.2,2056.2 1176.0,2057.0 C1178.8,2057.8 1182.9,2058.3 1185.4,2056.5 C1187.9,2054.7 1189.2,2050.3 1191.0,2046.0 C1192.8,2041.7 1194.2,2037.8 1196.5,2030.6 C1198.8,2023.4 1202.2,2011.8 1204.7,2002.6 C1207.2,1993.4 1209.5,1985.1 1211.8,1975.7 C1214.1,1966.3 1216.5,1955.8 1218.8,1946.4 C1221.1,1937.0 1223.5,1928.5 1225.8,1919.5 C1228.1,1910.5 1230.3,1899.8 1232.8,1892.6 C1235.3,1885.3 1238.1,1880.4 1241.0,1876.0 C1243.9,1871.6 1247.5,1868.9 1250.4,1866.0 C1253.3,1863.1 1255.5,1861.1 1258.5,1858.5 C1261.5,1855.9 1265.5,1852.3 1268.7,1850.5 C1271.9,1848.7 1274.2,1848.3 1277.5,1847.5 C1280.8,1846.7 1284.8,1846.0 1288.5,1845.6 C1292.2,1845.2 1280.6,1845.1 1300.0,1845.0 C1319.4,1844.9 1387.5,1845.2 1405.0,1845.2" fill="none" stroke="#0b5be0" stroke-width="3.3" stroke-linejoin="round" stroke-linecap="round" stroke-dasharray="5.9 22.5"/>
<path d="M169.0,1840.0 C195.8,1840.0 299.8,1840.0 330.0,1840.2 C360.2,1840.4 344.7,1840.5 350.0,1841.0 C355.3,1841.5 358.3,1842.1 362.0,1843.0 C365.7,1843.9 368.7,1845.0 372.0,1846.5 C375.3,1848.0 378.8,1849.6 382.0,1852.0 C385.2,1854.4 388.2,1858.3 391.0,1861.0 C393.8,1863.7 396.4,1863.8 398.8,1868.0 C401.2,1872.2 403.4,1882.0 405.2,1885.9 C407.0,1889.9 408.1,1888.0 409.9,1891.7 C411.6,1895.4 413.9,1902.6 415.7,1908.1 C417.4,1913.6 418.2,1917.5 420.4,1924.5 C422.5,1931.5 426.7,1943.2 428.6,1950.2 C430.6,1957.2 430.7,1961.1 432.1,1966.6 C433.5,1972.1 434.9,1976.0 436.8,1983.0 C438.8,1990.0 442.1,2001.7 443.8,2008.7 C445.6,2015.7 445.9,2019.8 447.3,2025.1 C448.7,2030.4 450.4,2035.6 452.0,2040.3 C453.6,2045.0 455.4,2048.9 457.0,2053.0 C458.6,2057.1 459.7,2061.8 461.4,2064.9 C463.1,2068.0 464.9,2070.1 467.0,2071.5 C469.1,2072.9 472.4,2073.6 474.2,2073.5 C476.0,2073.4 476.6,2073.0 478.0,2071.0 C479.4,2069.0 480.8,2065.1 482.4,2061.3 C484.0,2057.5 485.7,2052.5 487.5,2048.0 C489.3,2043.5 491.6,2039.2 493.0,2034.4 C494.4,2029.6 494.9,2024.7 495.9,2019.2 C496.9,2013.8 497.1,2008.9 498.8,2001.7 C500.5,1994.5 504.3,1982.7 505.8,1975.9 C507.3,1969.1 506.8,1966.2 507.6,1960.7 C508.4,1955.2 508.9,1950.4 510.5,1943.2 C512.1,1936.0 515.9,1924.6 517.5,1917.4 C519.1,1910.2 518.8,1905.4 519.9,1899.9 C521.0,1894.4 522.3,1891.2 524.0,1884.2 C525.7,1877.2 528.5,1865.2 530.2,1858.1 C531.9,1851.0 532.7,1846.9 534.3,1841.6 C535.9,1836.3 537.9,1830.9 539.8,1826.5 C541.7,1822.1 543.5,1818.7 545.5,1815.0 C547.5,1811.3 548.5,1808.4 551.5,1804.6 C554.5,1800.8 558.3,1794.7 563.2,1791.9 C568.1,1789.2 575.9,1788.3 581.0,1788.1 C586.1,1787.9 589.8,1789.7 594.0,1790.5 C598.2,1791.3 601.7,1792.2 606.5,1792.9 C611.3,1793.6 617.3,1794.2 622.9,1794.7 C628.5,1795.2 634.9,1795.4 640.1,1795.6 C645.3,1795.8 649.4,1795.9 654.0,1796.0 C658.6,1796.1 662.7,1795.9 667.6,1796.3 C672.5,1796.7 678.1,1797.7 683.4,1798.4 C688.7,1799.1 694.5,1800.1 699.6,1800.4 C704.7,1800.7 709.0,1800.4 713.7,1800.4 C718.4,1800.4 722.9,1801.2 727.8,1800.4 C732.7,1799.6 737.9,1797.2 742.9,1795.6 C747.9,1794.0 753.1,1792.0 758.0,1790.8 C762.9,1789.6 767.3,1789.2 772.0,1788.4 C776.7,1787.6 781.2,1786.9 786.2,1786.0 C791.2,1785.1 797.0,1784.4 802.0,1783.2 C807.0,1782.0 812.1,1780.8 816.4,1779.1 C820.7,1777.4 824.1,1775.0 828.0,1773.0 C831.9,1771.0 835.8,1769.5 839.7,1766.8 C843.6,1764.0 847.6,1760.2 851.4,1756.5 C855.2,1752.8 858.8,1748.4 862.4,1744.8 C866.0,1741.2 869.5,1738.3 873.0,1735.0 C876.5,1731.7 880.2,1728.5 883.7,1724.9 C887.2,1721.3 890.0,1717.1 893.7,1713.2 C897.4,1709.3 902.4,1705.0 906.1,1701.5 C909.8,1698.0 912.7,1695.2 916.0,1692.0 C919.3,1688.8 922.1,1685.6 926.0,1682.3 C929.9,1679.0 934.6,1675.5 939.1,1672.0 C943.6,1668.5 948.4,1664.0 952.8,1661.0 C957.2,1658.0 961.3,1656.3 965.5,1654.0 C969.7,1651.7 973.3,1648.9 978.2,1647.2 C983.1,1645.5 989.3,1644.2 994.7,1643.8 C1000.1,1643.3 1005.6,1644.0 1010.5,1644.5 C1015.4,1645.0 1019.4,1646.2 1024.0,1647.0 C1028.6,1647.8 1032.9,1648.3 1038.0,1649.3 C1043.1,1650.2 1049.9,1651.2 1054.5,1652.7 C1059.1,1654.2 1062.2,1655.5 1065.6,1658.4 C1069.0,1661.3 1071.9,1666.0 1075.0,1670.0 C1078.1,1674.0 1081.6,1678.1 1084.3,1682.7 C1087.0,1687.3 1088.9,1692.5 1090.9,1697.6 C1092.9,1702.7 1094.8,1708.8 1096.5,1713.5 C1098.2,1718.2 1099.5,1721.8 1101.0,1726.0 C1102.5,1730.2 1104.5,1733.9 1105.8,1738.8 C1107.1,1743.7 1107.5,1748.9 1108.6,1755.6 C1109.7,1762.3 1111.2,1771.2 1112.5,1779.0 C1113.8,1786.8 1115.1,1794.6 1116.5,1802.4 C1117.9,1810.2 1119.7,1820.2 1121.0,1825.8 C1122.3,1831.4 1123.6,1833.6 1124.5,1836.0 C1125.4,1838.4 1125.5,1836.2 1126.4,1840.0 C1127.3,1843.8 1128.8,1853.0 1129.9,1858.7 C1131.0,1864.4 1131.9,1868.6 1132.8,1873.9 C1133.7,1879.2 1133.8,1883.1 1135.1,1890.3 C1136.4,1897.5 1139.1,1910.0 1140.4,1917.2 C1141.7,1924.4 1141.9,1928.1 1142.7,1933.6 C1143.5,1939.0 1143.6,1942.7 1145.1,1949.9 C1146.6,1957.1 1150.0,1970.0 1151.5,1976.8 C1153.0,1983.6 1153.3,1985.8 1154.4,1990.9 C1155.5,1996.0 1156.0,2000.1 1158.0,2007.3 C1160.0,2014.5 1163.8,2027.8 1166.1,2034.2 C1168.4,2040.7 1170.0,2043.3 1172.0,2046.0 C1174.0,2048.7 1176.0,2049.9 1178.0,2050.5 C1180.0,2051.1 1181.7,2051.7 1183.7,2049.4 C1185.7,2047.2 1187.9,2041.5 1190.0,2037.0 C1192.1,2032.5 1194.8,2027.3 1196.5,2022.5 C1198.2,2017.7 1198.7,2013.5 1200.1,2008.4 C1201.5,2003.3 1202.7,1999.2 1204.7,1992.0 C1206.7,1984.8 1210.5,1972.3 1212.3,1965.1 C1214.1,1957.9 1214.5,1954.0 1215.8,1948.8 C1217.1,1943.5 1217.9,1940.4 1219.9,1933.6 C1222.0,1926.8 1225.8,1914.8 1228.1,1907.8 C1230.3,1900.8 1231.4,1896.6 1233.4,1891.5 C1235.5,1886.4 1237.8,1881.7 1240.4,1877.4 C1243.0,1873.2 1246.2,1869.5 1249.0,1866.0 C1251.8,1862.5 1254.1,1859.1 1257.4,1856.4 C1260.7,1853.7 1265.4,1851.6 1268.7,1850.0 C1272.0,1848.4 1274.2,1847.8 1277.5,1847.0 C1280.8,1846.2 1284.8,1845.7 1288.5,1845.3 C1292.2,1844.9 1280.6,1844.9 1300.0,1844.8 C1319.4,1844.7 1387.5,1844.9 1405.0,1844.9" fill="none" stroke="#1ea456" stroke-width="3.3" stroke-linejoin="round" stroke-linecap="butt" stroke-dasharray="28.2 11.8 7.6 11.9"/>
<line x1="168" y1="1844.4" x2="1406" y2="1844.4" stroke="#000" stroke-width="3.4"/>
<line x1="469.6" y1="1342.8" x2="469.6" y2="2342.3" stroke="#000" stroke-width="3.5" stroke-dasharray="18.2 15.93"/>
<line x1="1050.9" y1="1342.8" x2="1050.9" y2="2342.3" stroke="#000" stroke-width="3.5" stroke-dasharray="18.2 15.93"/>
<rect x="168" y="1346.5" width="1238" height="995.8000000000002" fill="none" stroke="#000" stroke-width="3.2"/>
<line x1="415.5" y1="2342.3" x2="415.5" y2="2323.3" stroke="#000" stroke-width="3.2"/>
<line x1="663.0" y1="2342.3" x2="663.0" y2="2323.3" stroke="#000" stroke-width="3.2"/>
<line x1="910.6" y1="2342.3" x2="910.6" y2="2323.3" stroke="#000" stroke-width="3.2"/>
<line x1="1158.1" y1="2342.3" x2="1158.1" y2="2323.3" stroke="#000" stroke-width="3.2"/>
<line x1="291.8" y1="2342.3" x2="291.8" y2="2332.3" stroke="#000" stroke-width="3.2"/>
<line x1="539.3" y1="2342.3" x2="539.3" y2="2332.3" stroke="#000" stroke-width="3.2"/>
<line x1="786.8" y1="2342.3" x2="786.8" y2="2332.3" stroke="#000" stroke-width="3.2"/>
<line x1="1034.3" y1="2342.3" x2="1034.3" y2="2332.3" stroke="#000" stroke-width="3.2"/>
<line x1="1281.8" y1="2342.3" x2="1281.8" y2="2332.3" stroke="#000" stroke-width="3.2"/>
<line x1="168" y1="1471.0" x2="187" y2="1471.0" stroke="#000" stroke-width="3.2"/>
<line x1="168" y1="1595.5" x2="187" y2="1595.5" stroke="#000" stroke-width="3.2"/>
<line x1="168" y1="1719.9" x2="187" y2="1719.9" stroke="#000" stroke-width="3.2"/>
<line x1="168" y1="1844.4" x2="187" y2="1844.4" stroke="#000" stroke-width="3.2"/>
<line x1="168" y1="1968.9" x2="187" y2="1968.9" stroke="#000" stroke-width="3.2"/>
<line x1="168" y1="2093.3" x2="187" y2="2093.3" stroke="#000" stroke-width="3.2"/>
<line x1="168" y1="2217.8" x2="187" y2="2217.8" stroke="#000" stroke-width="3.2"/>
<line x1="168" y1="1408.7" x2="178" y2="1408.7" stroke="#000" stroke-width="3.2"/>
<line x1="168" y1="1533.2" x2="178" y2="1533.2" stroke="#000" stroke-width="3.2"/>
<line x1="168" y1="1657.7" x2="178" y2="1657.7" stroke="#000" stroke-width="3.2"/>
<line x1="168" y1="1782.2" x2="178" y2="1782.2" stroke="#000" stroke-width="3.2"/>
<line x1="168" y1="1906.6" x2="178" y2="1906.6" stroke="#000" stroke-width="3.2"/>
<line x1="168" y1="2031.1" x2="178" y2="2031.1" stroke="#000" stroke-width="3.2"/>
<line x1="168" y1="2155.6" x2="178" y2="2155.6" stroke="#000" stroke-width="3.2"/>
<line x1="168" y1="2280.1" x2="178" y2="2280.1" stroke="#000" stroke-width="3.2"/>
<text transform="translate(145.7,1358.0) scale(1,0.99)" font-size="42.5" font-weight="bold" text-anchor="end">4</text>
<text transform="translate(145.7,1482.5) scale(1,0.99)" font-size="42.5" font-weight="bold" text-anchor="end">3</text>
<text transform="translate(145.7,1607.0) scale(1,0.99)" font-size="42.5" font-weight="bold" text-anchor="end">2</text>
<text transform="translate(145.7,1731.4) scale(1,0.99)" font-size="42.5" font-weight="bold" text-anchor="end">1</text>
<text transform="translate(145.7,1855.9) scale(1,0.99)" font-size="42.5" font-weight="bold" text-anchor="end">0</text>
<text transform="translate(145.7,1980.4) scale(1,0.99)" font-size="42.5" font-weight="bold" text-anchor="end">-1</text>
<text transform="translate(145.7,2104.8) scale(1,0.99)" font-size="42.5" font-weight="bold" text-anchor="end">-2</text>
<text transform="translate(145.7,2229.3) scale(1,0.99)" font-size="42.5" font-weight="bold" text-anchor="end">-3</text>
<text transform="translate(145.7,2353.8) scale(1,0.99)" font-size="42.5" font-weight="bold" text-anchor="end">-4</text>
<text transform="translate(168.0,2398.0) scale(1,0.99)" font-size="42.5" font-weight="bold" text-anchor="middle">0</text>
<text transform="translate(415.5,2398.0) scale(1,0.99)" font-size="42.5" font-weight="bold" text-anchor="middle">100</text>
<text transform="translate(663.0,2398.0) scale(1,0.99)" font-size="42.5" font-weight="bold" text-anchor="middle">200</text>
<text transform="translate(910.6,2398.0) scale(1,0.99)" font-size="42.5" font-weight="bold" text-anchor="middle">300</text>
<text transform="translate(1158.1,2398.0) scale(1,0.99)" font-size="42.5" font-weight="bold" text-anchor="middle">400</text>
<text transform="translate(1405.6,2398.0) scale(1,0.99)" font-size="42.5" font-weight="bold" text-anchor="middle">500</text>
<text transform="translate(787.0,2459.0) scale(1,1.05)" font-size="52" font-weight="bold" text-anchor="middle">Thickness <tspan font-weight="normal">(</tspan>µm<tspan font-weight="normal">)</tspan></text>
<text transform="translate(82.2,2055.4) rotate(-90) scale(0.98,1)" font-size="53.0" font-weight="bold" text-anchor="start">Charge desity</text>
<text transform="translate(82.2,1586.3) rotate(-90)" font-size="53.0" font-weight="bold" text-anchor="end"><tspan font-weight="normal">(</tspan>C/m<tspan font-size="31.3" dy="-24.5">3</tspan><tspan dy="24.5" font-weight="normal">)</tspan></text>
<line x1="503" y1="1384.3" x2="623" y2="1384.3" stroke="#474747" stroke-width="3.4" stroke-linecap="butt"/>
<text transform="translate(633.5,1402.6) scale(1,1.02)" font-size="52.3"  text-anchor="start">6 s</text>
<line x1="503" y1="1448.1" x2="623" y2="1448.1" stroke="#f52f2f" stroke-width="3.4" stroke-linecap="butt" stroke-dasharray="24.2 23.1"/>
<text transform="translate(633.5,1466.4) scale(1,1.02)" font-size="52.3"  text-anchor="start">90 s</text>
<line x1="504.7" y1="1512.5" x2="621.3" y2="1512.5" stroke="#0b5be0" stroke-width="3.4" stroke-linecap="round" stroke-dasharray="5.9 22.5"/>
<text transform="translate(633.5,1530.8) scale(1,1.02)" font-size="52.3"  text-anchor="start">900 s</text>
<line x1="503" y1="1576" x2="611.5" y2="1576" stroke="#1ea456" stroke-width="3.4" stroke-linecap="butt" stroke-dasharray="28.2 11.8 7.6 11.9"/>
<text transform="translate(633.5,1594.3) scale(1,1.02)" font-size="52.3"  text-anchor="start">1800 s</text>
<text transform="translate(1063.5,1583.6) scale(1,1.02)" font-size="52.2"  text-anchor="start">Anode</text>
<text transform="translate(503.0,2186.0) scale(1,1.02)" font-size="52.2"  text-anchor="start">Cathode</text>
<text x="688.1" y="2582.5" font-size="77">(</text>
<text x="713.4" y="2582.8" font-size="80" font-weight="bold">e</text>
<text x="750.0" y="2582.5" font-size="77">)</text>
</svg>
</body></html>
